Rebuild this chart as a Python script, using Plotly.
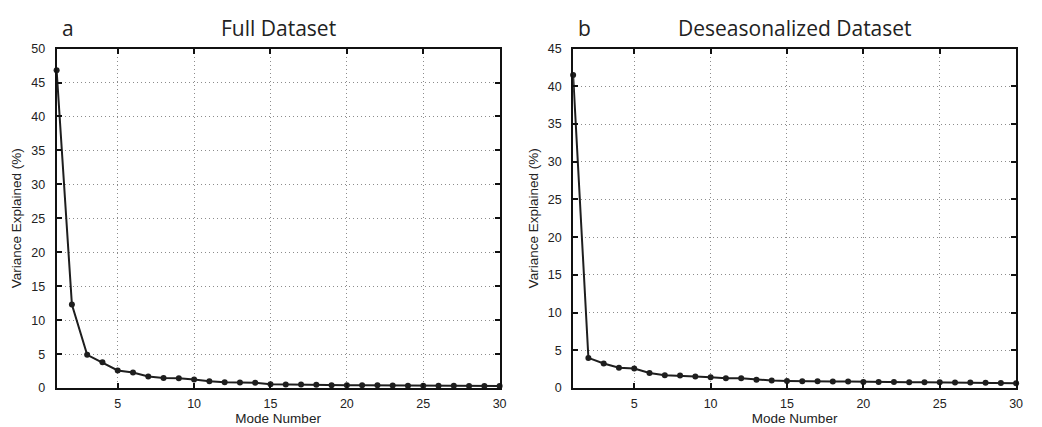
import plotly.graph_objects as go

modes = list(range(1, 31))
full_var = [46.8, 12.3, 4.9, 3.8, 2.6, 2.3, 1.7, 1.5, 1.45, 1.25, 1.0, 0.87, 0.82, 0.77, 0.58,
            0.53, 0.53, 0.48, 0.43, 0.43, 0.4, 0.4, 0.38, 0.36, 0.35, 0.34, 0.33, 0.32, 0.31, 0.3]
deseas_var = [41.5, 4.0, 3.25, 2.7, 2.6, 2.0, 1.7, 1.66, 1.53, 1.44, 1.3, 1.3, 1.12, 0.99, 0.95,
              0.9, 0.9, 0.86, 0.86, 0.82, 0.79, 0.79, 0.78, 0.78, 0.77, 0.74, 0.73, 0.72, 0.69, 0.65]
panel_letters = ["a", "b"]
panel_titles = ["Full Dataset", "Deseasonalized Dataset"]
x_ticks = [5, 10, 15, 20, 25, 30]
y_ticks_a = [0, 5, 10, 15, 20, 25, 30, 35, 40, 45, 50]
y_ticks_b = [0, 5, 10, 15, 20, 25, 30, 35, 40, 45]

W, H = 1042, 427
fig = go.Figure()

line_style = dict(color="#1e1e1e", width=2)
marker_style = dict(color="#1e1e1e", size=6)

fig.add_trace(go.Scatter(x=modes, y=full_var, mode="lines+markers", line=line_style,
                         marker=marker_style, xaxis="x", yaxis="y", showlegend=False,
                         cliponaxis=False))
fig.add_trace(go.Scatter(x=modes, y=deseas_var, mode="lines+markers", line=line_style,
                         marker=marker_style, xaxis="x2", yaxis="y2", showlegend=False,
                         cliponaxis=False))

tickfont = dict(family="Liberation Sans, Arial, sans-serif", size=12.5, color="#222")
axtitlefont = dict(family="Liberation Sans, Arial, sans-serif", size=13.5, color="#222")
grid = dict(showgrid=True, gridcolor="#8c8c8c", griddash="1px,3px", gridwidth=1)
common_x = dict(range=[1, 30], tickvals=x_ticks, ticks="inside", ticklen=5, tickwidth=1.5,
                tickcolor="#111", showline=True, linecolor="#111", linewidth=2, mirror="ticks",
                zeroline=False, tickfont=tickfont, ticklabelstandoff=3,
                title=dict(text="Mode Number", font=axtitlefont, standoff=0), **grid)
common_y = dict(ticks="inside", ticklen=5, tickwidth=1.5,
                tickcolor="#111", showline=True, linecolor="#111", linewidth=2, mirror="ticks",
                zeroline=False, tickfont=tickfont, ticklabelstandoff=7,
                title=dict(text="Variance Explained (%)", font=axtitlefont, standoff=6), **grid)

yb0 = (H - 394) / H
yb1 = (H - 43) / H
fig.update_layout(
    width=W, height=H,
    margin=dict(l=0, r=0, t=0, b=0),
    paper_bgcolor="white", plot_bgcolor="white",
    xaxis=dict(domain=[57 / W, 503 / W], anchor="y", **common_x),
    yaxis=dict(domain=[yb0, yb1], anchor="x", range=[0, 50], tickvals=y_ticks_a, **common_y),
    xaxis2=dict(domain=[577 / W, 1023 / W], anchor="y2", **common_x),
    yaxis2=dict(domain=[yb0, yb1], anchor="x2", range=[0, 45], tickvals=y_ticks_b, **common_y),
)

titlefont = dict(family="Open Sans, Noto Sans, sans-serif", size=21, color="#222")
centers = [(57 + 503) / 2 / W, (577 + 1023) / 2 / W]
letter_x = [68 / W, 588 / W]
for i in range(2):
    fig.add_annotation(text=panel_titles[i], x=centers[i], y=(H - 22) / H, xref="paper", yref="paper",
                       showarrow=False, font=titlefont, xanchor="center", yanchor="middle")
    fig.add_annotation(text=panel_letters[i], x=letter_x[i], y=(H - 22) / H, xref="paper", yref="paper",
                       showarrow=False, font=titlefont, xanchor="center", yanchor="middle")

fig.write_html("out.html")
